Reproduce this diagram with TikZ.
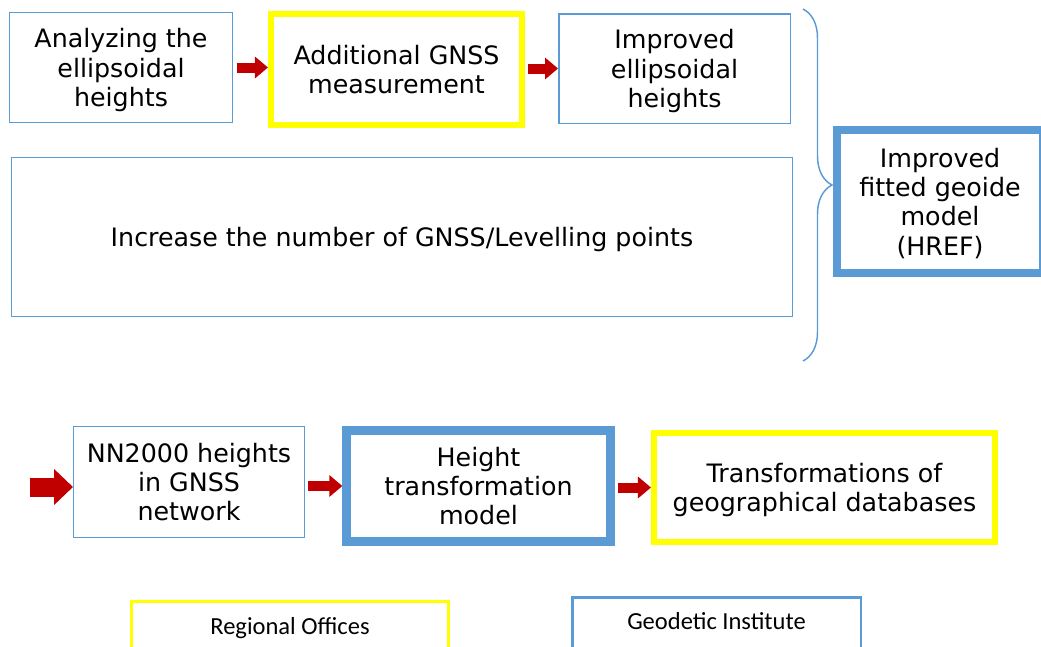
\documentclass[tikz,border=0pt]{standalone}
\usepackage{fontspec}
\setmainfont{DejaVu Sans}
\newfontfamily\legfont{Carlito}
\usetikzlibrary{arrows.meta,calc,decorations.pathreplacing}
\definecolor{boxblue}{HTML}{5B9BD5}
\definecolor{boxyel}{HTML}{FFFF00}
\definecolor{arrred}{HTML}{C00000}
\tikzset{thinbox/.style={draw=boxblue, line width=1.1pt, align=center, inner sep=0pt, text depth=0pt},
  yelbox/.style={draw=boxyel, line width=4.2pt, align=center, inner sep=0pt, text depth=0pt},
  bluebox/.style={draw=boxblue, line width=6.2pt, align=center, inner sep=0pt, text depth=0pt},
  redarr/.style={draw=arrred, line width=7.5pt, shorten <=2.5pt,
    -{Triangle[length=9.75pt, width=15.75pt]}},
  bigarr/.style={draw=arrred, line width=14.25pt,
    -{Triangle[length=14.25pt, width=26.25pt]}},
  brc/.style={draw=boxblue, line width=1.1pt,
    decorate, decoration={brace, amplitude=21.75pt}}}

\begin{document}
\begin{tikzpicture}[x=0.75pt, y=-0.75pt, font=\fontsize{19}{22}\selectfont]
  \clip (0,0) rectangle (1041,646);
  % upper part: geoide model
  \node[thinbox, minimum width=167.25pt, minimum height=82.5pt] (ana) at (121,67.5)
    {Analyzing the\\ellipsoidal\\heights};
  \node[yelbox, minimum width=188.6pt, minimum height=83.6pt] (add) at (396.5,69.5)
    {Additional GNSS\\measurement};
  \node[thinbox, minimum width=173.6pt, minimum height=82.1pt] (imp) at (674.5,68.5)
    {Improved\\ellipsoidal\\heights};
  \node[thinbox, minimum width=585.4pt, minimum height=118.9pt] (inc) at (402,237)
    {Increase the number of GNSS/Levelling points};
  \node[bluebox, minimum width=154.1pt, minimum height=106.9pt] (geo) at (940,201.5)
    {Improved\\fitted geoide\\model\\(HREF)};
  \draw[redarr] (ana.east) -- (ana.east -| add.west);
  \draw[redarr] (add.east |- imp.west) -- (imp.west);
  \coordinate (bt) at (803,9);
  \coordinate (bb) at (803,361);
  \draw[brc] (bt) -- (bb);
  % lower part: transformation
  \node[thinbox, minimum width=172.9pt, minimum height=82.9pt] (nn) at (189,482)
    {NN2000 heights\\in GNSS\\network};
  \node[bluebox, minimum width=198pt, minimum height=83.25pt] (htm) at (478.5,486)
    {Height\\transformation\\model};
  \node[yelbox, minimum width=256.1pt, minimum height=82.1pt] (tdb) at (824.5,487.5)
    {Transformations of\\geographical databases};
  \coordinate (src) at (30,487);
  \draw[bigarr] (src) -- (src -| nn.west);
  \draw[redarr] (htm.west -| nn.east) -- (htm.west);
  \draw[redarr] (tdb.west -| htm.east) -- (tdb.west);
  % legend
  \node[draw=boxyel, line width=2.6pt, anchor=north, inner sep=0pt,
    minimum width=237.4pt, text height=24.2pt, text depth=45pt,
    font=\legfont\fontsize{18.4}{22}\selectfont] (reg) at (290,600) {Regional Offices};
  \node[draw=boxblue, line width=1.9pt, anchor=north, inner sep=0pt,
    minimum width=216.4pt, text height=23.8pt, text depth=45pt,
    font=\legfont\fontsize{18.4}{22}\selectfont] (gin) at (716.5,596) {Geodetic Institute};
\end{tikzpicture}
\end{document}
